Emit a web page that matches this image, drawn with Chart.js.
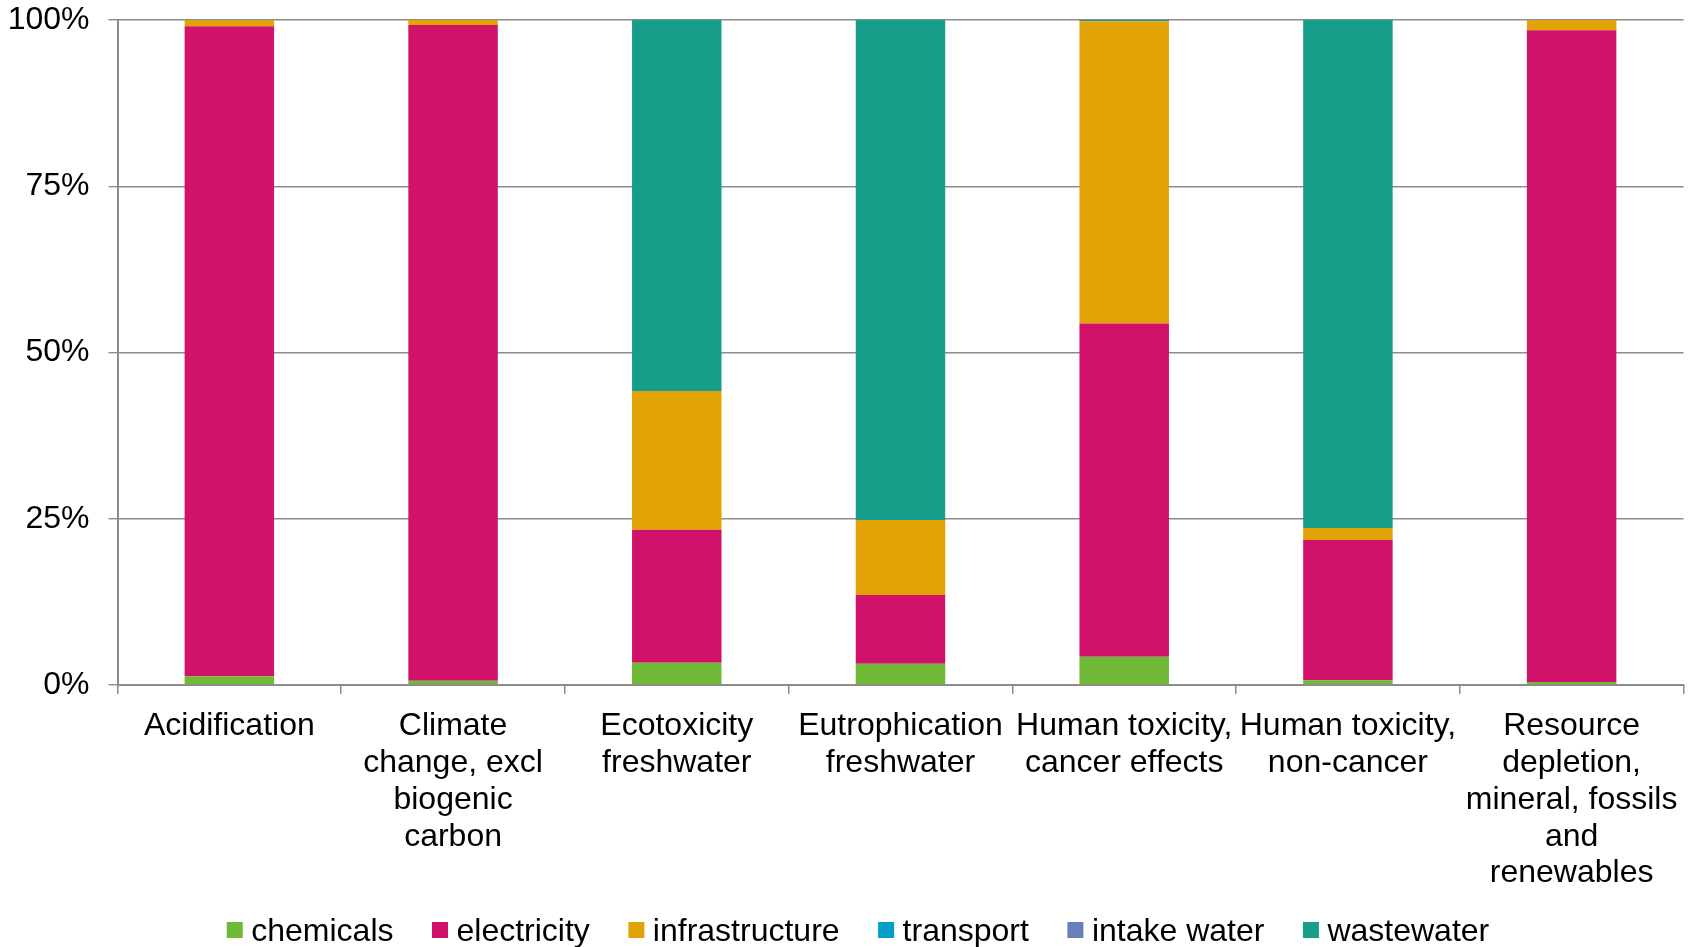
<!DOCTYPE html>
<html>
<head>
<meta charset="utf-8">
<title>Contribution by impact category</title>
<script src="https://cdn.jsdelivr.net/npm/chart.js@4/dist/chart.umd.min.js"></script>
<style>
  html, body { margin: 0; padding: 0; background: #ffffff; }
  #wrap { width: 1692px; height: 947px; }
</style>
</head>
<body>
<div id="wrap"><canvas id="chart" width="1692" height="947"></canvas></div>
<script>
// Impact categories (multi-line axis labels)
const categories = [
  'Acidification',
  ['Climate', 'change, excl', 'biogenic', 'carbon'],
  ['Ecotoxicity', 'freshwater'],
  ['Eutrophication', 'freshwater'],
  ['Human toxicity,', 'cancer effects'],
  ['Human toxicity,', 'non-cancer'],
  ['Resource', 'depletion,', 'mineral, fossils', 'and', 'renewables']
];

// Share of each contributor per category, in percent
const chemicals      = [1.3,  0.65, 3.35, 3.2,  4.25, 0.7,  0.45];
const electricity    = [97.75, 98.6, 20.0, 10.35, 50.1, 21.1, 98.0];
const infrastructure = [0.95, 0.75, 20.85, 11.25, 45.45, 1.8, 1.55];
const transport      = [0,    0,    0,    0,    0,    0,    0];
const intakeWater    = [0,    0,    0,    0,    0,    0,    0];
const wastewater     = [0,    0,    55.8, 75.2, 0.2,  76.4, 0];

const seriesNames  = ['chemicals', 'electricity', 'infrastructure', 'transport', 'intake water', 'wastewater'];
const seriesValues = [chemicals, electricity, infrastructure, transport, intakeWater, wastewater];
const seriesColors = ['#6fb936', '#d0126b', '#e2a307', '#00a0c6', '#6a7fb5', '#169e8b'];

const yTickValues = [0, 25, 50, 75, 100];
const yTickLabels = ['0%', '25%', '50%', '75%', '100%'];

const FONT = '"Liberation Sans", Arial, sans-serif';
const AXIS_GREY = '#8c8c8c';

const datasets = seriesNames.map((name, i) => ({
  label: name,
  data: seriesValues[i],
  backgroundColor: seriesColors[i],
  borderWidth: 0,
  barPercentage: 0.4,
  categoryPercentage: 1.0
}));

// Single-row legend along the bottom edge: square swatch, short gap, name.
const bottomLegend = {
  id: 'bottomLegend',
  afterDraw(chart) {
    const ctx = chart.ctx;
    const swatch = 16, gap = 8.5, spacing = 38.5;
    ctx.save();
    ctx.font = '32px ' + FONT;
    ctx.textAlign = 'left';
    ctx.textBaseline = 'alphabetic';
    const widths = seriesNames.map(n => ctx.measureText(n).width);
    const total = widths.reduce((sum, w) => sum + swatch + gap + w, 0) + spacing * (seriesNames.length - 1);
    let x = chart.width / 2 + 12 - total / 2;
    const baseline = 940.5;
    seriesNames.forEach((name, i) => {
      ctx.fillStyle = seriesColors[i];
      ctx.fillRect(x, baseline - 18.5, swatch, swatch);
      ctx.fillStyle = '#000000';
      ctx.fillText(name, x + swatch + gap, baseline);
      x += swatch + gap + widths[i] + spacing;
    });
    ctx.restore();
  }
};

new Chart(document.getElementById('chart'), {
  type: 'bar',
  data: { labels: categories, datasets },
  plugins: [bottomLegend],
  options: {
    responsive: false,
    animation: false,
    devicePixelRatio: 1,
    layout: { padding: { top: 20, right: 8, left: 0, bottom: 52 } },
    plugins: {
      legend: { display: false },
      tooltip: { enabled: false }
    },
    scales: {
      x: {
        stacked: true,
        offset: true,
        grid: {
          offset: true,
          drawOnChartArea: false,
          drawTicks: true,
          tickLength: 9,
          color: AXIS_GREY,
          lineWidth: 1.5
        },
        border: { display: true, color: AXIS_GREY, width: 2 },
        ticks: {
          autoSkip: false,
          maxRotation: 0,
          minRotation: 0,
          padding: 14,
          color: '#000000',
          font: { family: FONT, size: 32, lineHeight: 1.15 }
        },
        afterFit(scale) { scale.height = 210; }
      },
      y: {
        stacked: true,
        min: 0,
        max: 100,
        afterBuildTicks(scale) { scale.ticks = yTickValues.map(v => ({ value: v })); },
        ticks: {
          padding: 19,
          color: '#000000',
          font: { family: FONT, size: 32, lineHeight: 1.15 },
          callback: (v) => yTickLabels[yTickValues.indexOf(v)]
        },
        grid: {
          color: AXIS_GREY,
          lineWidth: 1.4,
          drawTicks: true,
          tickLength: 9
        },
        border: { display: true, color: AXIS_GREY, width: 2 },
        afterFit(scale) {
          scale.width = 117.5;
          scale.paddingTop = 0;
          scale.paddingBottom = 0;
        }
      }
    }
  }
});
</script>
</body>
</html>
